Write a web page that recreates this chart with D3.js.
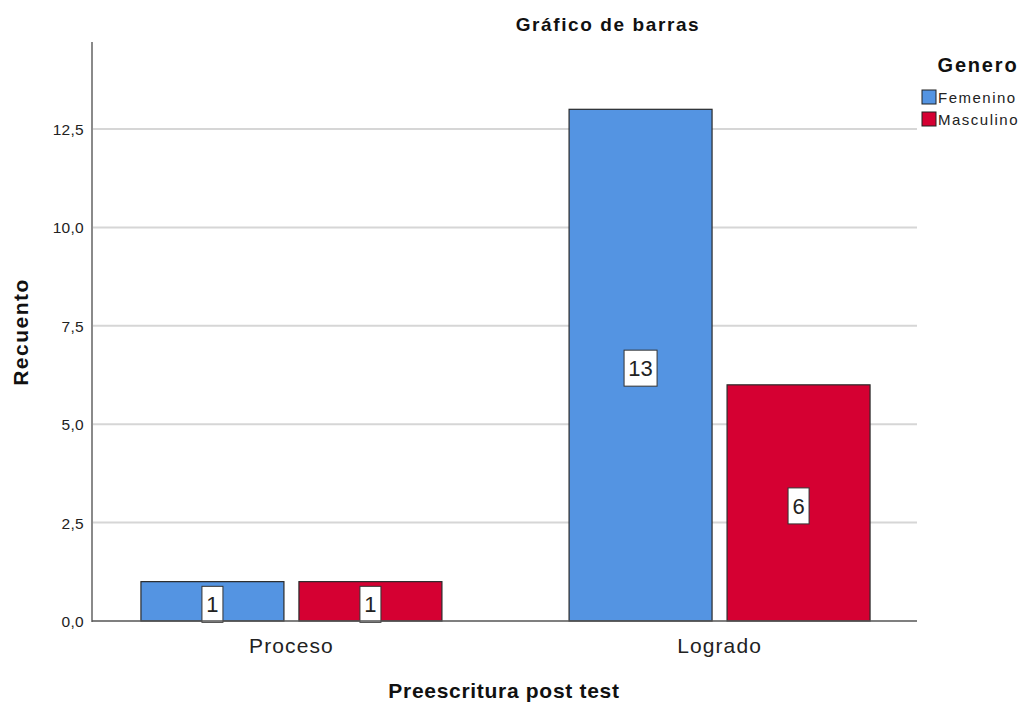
<!DOCTYPE html>
<html><head><meta charset="utf-8">
<script src="https://cdn.jsdelivr.net/npm/d3@7"></script>
<style>body{margin:0;background:#fff}svg{display:block}text{font-family:"Liberation Sans",Arial,sans-serif}</style>
</head><body><svg id="c" width="1033" height="702"></svg>
<script>
const categories = ["Proceso", "Logrado"];
const series = ["Femenino", "Masculino"];
const femenino = [1, 13];
const masculino = [1, 6];
const yTicks = [0, 2.5, 5, 7.5, 10, 12.5];
const colors = ["#5494e2", "#d50032"];
const values = [femenino, masculino];

const svg = d3.select("#c");
const x0 = 92, x1 = 917, yBase = 621, yTop = 42;
const y = d3.scaleLinear().domain([0, 14.71]).range([yBase, yTop]);
const xb = d3.scaleBand().domain(categories).range([x0 + 1, x1 + 1]).paddingInner(0.297).paddingOuter(0.112);
const xs = d3.scaleBand().domain(series).range([0, xb.bandwidth()]).paddingInner(0.095);

// gridlines
svg.append("g").selectAll("line").data(yTicks.filter(d => d > 0)).join("line")
  .attr("x1", x0).attr("x2", x1).attr("y1", d => y(d)).attr("y2", d => y(d))
  .attr("stroke", "#d6d6d6").attr("stroke-width", 2);

// y axis
const fmt = d => d3.format(".1f")(d).replace(".", ",");
const ya = svg.append("g").attr("transform", `translate(${x0},0)`)
  .call(d3.axisLeft(y).tickValues(yTicks).tickFormat(fmt).tickSize(0).tickPadding(8));
ya.select(".domain").remove();
ya.selectAll("text").attr("font-size", 15.5).attr("letter-spacing", 0.3).attr("fill", "#222")
  .attr("font-family", "Liberation Sans, Arial, sans-serif").attr("dy", "0.36em");
svg.append("line").attr("x1", x0).attr("x2", x0).attr("y1", yTop).attr("y2", yBase + 1)
  .attr("stroke", "#8a8a8a").attr("stroke-width", 2);

// bars
const groups = svg.append("g").selectAll("g").data(categories).join("g")
  .attr("transform", d => `translate(${xb(d)},0)`);
groups.each(function(cat, ci) {
  const g = d3.select(this);
  series.forEach((s, si) => {
    const v = values[si][ci];
    g.append("rect").attr("x", xs(s)).attr("width", xs.bandwidth())
      .attr("y", y(v)).attr("height", yBase - y(v))
      .attr("fill", colors[si]).attr("stroke", "#2a2a2a").attr("stroke-width", 1.2);
  });
});

// baseline
svg.append("line").attr("x1", x0).attr("x2", x1).attr("y1", yBase).attr("y2", yBase)
  .attr("stroke", "#555").attr("stroke-width", 1.5);

// labels
groups.each(function(cat, ci) {
  const g = d3.select(this);
  series.forEach((s, si) => {
    const v = values[si][ci];
    const cx = xs(s) + xs.bandwidth() / 2;
    const cy = (y(v) + yBase) / 2 + 3;
    const w = String(v).length * 12 + 9;
    g.append("rect").attr("x", cx - w / 2).attr("y", cy - 18).attr("width", w).attr("height", 36)
      .attr("fill", "#fff").attr("stroke", "#333").attr("stroke-width", 1);
    g.append("text").attr("x", cx).attr("y", cy + 8).attr("text-anchor", "middle")
      .attr("font-size", 22).attr("fill", "#222").text(v);
  });
});

// category labels
svg.append("g").selectAll("text").data(categories).join("text")
  .attr("x", d => xb(d) + xb.bandwidth() / 2).attr("y", 653).attr("text-anchor", "middle")
  .attr("font-size", 21).attr("letter-spacing", 1.1).attr("fill", "#222").text(d => d);

// titles
svg.append("text").attr("x", 608).attr("y", 31).attr("text-anchor", "middle")
  .attr("font-size", 19).attr("letter-spacing", 1.6).attr("font-weight", "bold").attr("fill", "#111").text("Gráfico de barras");
svg.append("text").attr("x", 504).attr("y", 698).attr("text-anchor", "middle")
  .attr("font-size", 21).attr("letter-spacing", 0.7).attr("font-weight", "bold").attr("fill", "#111").text("Preescritura post test");
svg.append("text").attr("transform", "translate(28,332) rotate(-90)").attr("text-anchor", "middle")
  .attr("font-size", 21).attr("letter-spacing", 1.5).attr("font-weight", "bold").attr("fill", "#111").text("Recuento");

// legend
svg.append("text").attr("x", 978).attr("y", 72).attr("text-anchor", "middle")
  .attr("font-size", 20).attr("letter-spacing", 1.8).attr("font-weight", "bold").attr("fill", "#111").text("Genero");
const lg = svg.append("g").selectAll("g").data(series).join("g")
  .attr("transform", (d, i) => `translate(922,${90 + i * 22})`);
lg.append("rect").attr("width", 14).attr("height", 14).attr("fill", (d, i) => colors[i])
  .attr("stroke", "#222").attr("stroke-width", 1);
lg.append("text").attr("x", 16).attr("y", 13).attr("font-size", 15).attr("letter-spacing", 1.5).attr("fill", "#222").text(d => d);
</script></body></html>
